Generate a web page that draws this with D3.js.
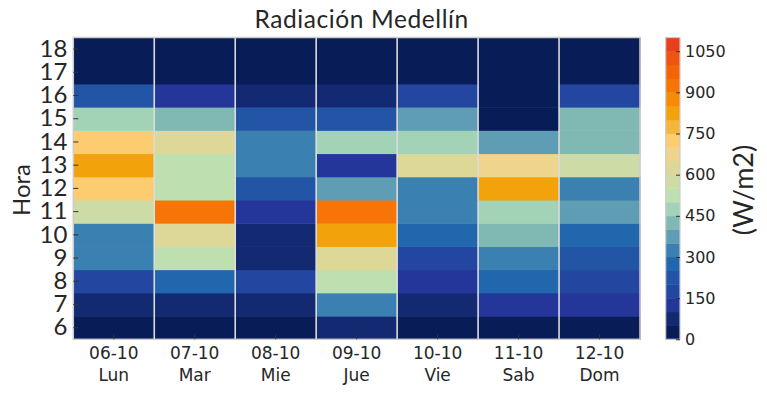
<!DOCTYPE html>
<html><head><meta charset="utf-8">
<script src="https://cdn.jsdelivr.net/npm/d3@7"></script>
<style>body{margin:0;background:#fff}svg{display:block}</style>
</head><body>
<svg id="c" width="767" height="395"></svg>
<script>
const days = ["06-10","07-10","08-10","09-10","10-10","11-10","12-10"];
const dayNames = ["Lun","Mar","Mie","Jue","Vie","Sab","Dom"];
const hours = [6,7,8,9,10,11,12,13,14,15,16,17,18];
// values per day, hours 6..18
const lun = [20,80,180,330,320,570,730,820,720,470,220,10,20];
const mar = [15,70,270,510,630,920,530,520,620,420,130,10,10];
const mie = [20,70,170,80,90,140,240,320,330,230,80,10,10];
const jue = [60,310,520,610,830,930,380,130,470,230,60,10,10];
const vie = [20,70,140,190,280,320,330,640,480,370,180,10,10];
const sab = [20,120,260,340,410,460,810,670,360,20,20,10,10];
const dom = [10,110,160,220,290,390,310,560,440,430,170,10,10];
const series = [lun,mar,mie,jue,vie,sab,dom];
const cbTicks = [0,150,300,450,600,750,900,1050];
const levelColors = ["#081d58","#132a72","#25369a","#2346a0","#2255a5","#2167ad","#3a80b1","#5e9db3","#80b8b3","#a2d3b7","#bee0b1","#cddca6","#ddd898","#eed48c","#fdcb70","#f6b63c","#f2a20a","#f58b07","#f77406","#f56508","#f05412","#e8401a"];

const svg = d3.select("#c");
const L=73.3,R=640,T=37.5,B=339.3;
const x = d3.scaleBand().domain(days).range([L,R]);
const y = d3.scaleBand().domain(hours.slice().reverse()).range([T,B]);
const color = d3.scaleQuantize().domain([0,1100]).range(levelColors);
const txt="#262626";

const cells=[];
series.forEach((s,i)=>s.forEach((v,j)=>cells.push({d:days[i],h:hours[j],v})));
svg.append("g").selectAll("rect").data(cells).join("rect")
 .attr("x",d=>x(d.d)).attr("y",d=>y(d.h))
 .attr("width",x.bandwidth()+0.5).attr("height",y.bandwidth()+0.5)
 .attr("fill",d=>color(d.v));
// separators
svg.append("g").selectAll("line").data(days.slice(1)).join("line")
 .attr("x1",d=>x(d)).attr("x2",d=>x(d)).attr("y1",T).attr("y2",B)
 .attr("stroke","#dcdcdc").attr("stroke-width",1.6);
svg.append("rect").attr("x",L).attr("y",T).attr("width",R-L).attr("height",B-T)
 .attr("fill","none").attr("stroke","#cccccc").attr("stroke-width",1.5);

// y axis
const ya = svg.append("g").attr("transform",`translate(${L},0)`)
 .call(d3.axisLeft(y).tickSize(-5).tickPadding(6));
ya.select(".domain").remove();
ya.selectAll("line").attr("stroke","#333").attr("stroke-width",1);
ya.selectAll("text").attr("font-family","Lato").attr("font-size",24).attr("fill",txt);

// x axis
const xa = svg.append("g").attr("transform",`translate(0,${B})`)
 .call(d3.axisBottom(x).tickSize(-5).tickPadding(5).tickFormat(()=>""));
xa.select(".domain").remove();
xa.selectAll("line").attr("stroke","#333").attr("stroke-width",1);
xa.selectAll(".tick").each(function(d,i){
  const t=d3.select(this).select("text").attr("font-family","DejaVu Sans").attr("font-size",17).attr("fill",txt).attr("dy",null);
  t.append("tspan").attr("x",0).attr("y",20).text(d);
  t.append("tspan").attr("x",0).attr("y",42).text(dayNames[i]);
});

// title & labels
svg.append("text").attr("x",(L+R)/2+5).attr("y",28).attr("text-anchor","middle")
 .attr("font-family","Lato").attr("font-size",24.5).attr("letter-spacing",0.6).attr("fill",txt).text("Radiación Medellín");
svg.append("text").attr("transform","translate(30,190) rotate(-90)").attr("text-anchor","middle")
 .attr("font-family","Lato").attr("font-size",24).attr("fill",txt).text("Hora");

// colorbar
const cL=665.7,cR=680;
const cy = d3.scaleLinear().domain([0,1100]).range([B,T]);
const lv = d3.range(levelColors.length);
svg.append("g").selectAll("rect").data(lv).join("rect")
 .attr("x",cL).attr("width",cR-cL)
 .attr("y",i=>cy((i+1)*50)).attr("height",i=>cy(i*50)-cy((i+1)*50)+0.4)
 .attr("fill",i=>levelColors[i]);
svg.append("rect").attr("x",cL).attr("y",T).attr("width",cR-cL).attr("height",B-T)
 .attr("fill","none").attr("stroke","#cccccc").attr("stroke-width",1.2);
const ca = svg.append("g").attr("transform",`translate(${cR},0)`)
 .call(d3.axisRight(cy).tickValues(cbTicks).tickSize(-4).tickPadding(5).tickFormat(d3.format("d")));
ca.select(".domain").remove();
ca.selectAll("line").attr("stroke","#333");
ca.selectAll("text").attr("font-family","DejaVu Sans").attr("font-size",16).attr("fill",txt);
svg.append("text").attr("transform","translate(753,190) rotate(-90)").attr("text-anchor","middle")
 .attr("font-family","Lato").attr("font-size",27).attr("fill",txt).text("(W/m2)");
</script>
</body></html>
